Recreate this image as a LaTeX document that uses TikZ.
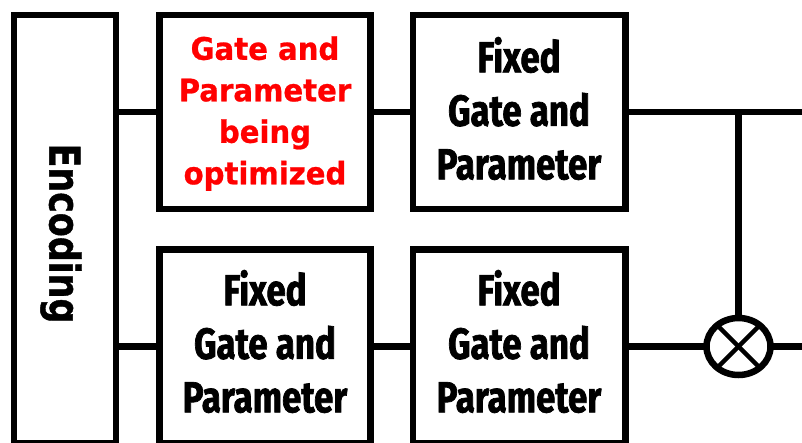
\documentclass[tikz,border=0pt]{standalone}
\usepackage{fontspec}
\usetikzlibrary{shapes.geometric}
\newfontfamily\fixfont[FakeStretch=0.8,FakeBold=1.6]{Fira Sans}
\newfontfamily\redfont[FakeStretch=0.94,FakeBold=0.8]{DejaVu Sans}
\newfontfamily\encfont[FakeStretch=0.82,FakeBold=1.0]{DejaVu Sans}

\begin{document}
\begin{tikzpicture}[x=1pt,y=-1pt,
  stagebox/.style={draw, line width=6.5pt, rectangle, minimum width=211pt,
    minimum height=194pt, inner sep=0pt},
  fixedtxt/.style={align=center, inner sep=0pt,
    font=\fixfont\bfseries\fontsize{43.5}{53.5}\selectfont},
  optxt/.style={align=center, inner sep=0pt, text=red,
    font=\redfont\bfseries\fontsize{31}{41.5}\selectfont},
  wire/.style={line width=6.5pt},
]
\useasboundingbox (0,0) rectangle (802,443);

% encoding block on the left
\node[draw, line width=6.5pt, rectangle, minimum width=102pt,
  minimum height=428.5pt, inner sep=0pt] (enc) at (65,229.25) {};
\node[rotate=-90, inner sep=0pt,
  font=\encfont\bfseries\fontsize{42.5}{50}\selectfont] (enctxt) at (61,233.5) {Encoding};

% gate stages
\node[stagebox] (b1) at (265,112) {};
\node[stagebox, minimum width=212.5pt] (b2) at (519.25,112) {};
\node[stagebox] (b3) at (265,346.5) {};
\node[stagebox, minimum width=212.5pt] (b4) at (519.25,346.5) {};

\node[optxt] (t1) at (265,113.5) {Gate and\\Parameter\\being\\optimized};
\node[fixedtxt] (t2) at (519,108.5) {Fixed\\Gate and\\Parameter};
\node[fixedtxt] (t3) at (265,341.5) {Fixed\\Gate and\\Parameter};
\node[fixedtxt] (t4) at (519,341.5) {Fixed\\Gate and\\Parameter};

% combining element
\node[draw, ellipse, line width=6.5pt, minimum width=64pt, minimum height=57pt,
  inner sep=0pt, outer sep=0pt] (ox) at (738.5,346.5) {};
\draw[line width=4.5pt] (ox.45) -- (ox.225);
\draw[line width=4.5pt] (ox.135) -- (ox.315);

% open ends on the right
\coordinate (endT) at (812,112);
\coordinate (endB) at (812,346.5);

% wires
\draw[wire] (enc.east |- b1.west) -- (b1.west);
\draw[wire] (b1.east) -- (b2.west);
\draw[wire] (b2.east) -- (endT);
\draw[wire] (enc.east |- b3.west) -- (b3.west);
\draw[wire] (b3.east) -- (b4.west);
\draw[wire] (b4.east) -- (ox.west);
\draw[wire] (ox.east) -- (endB);
\draw[wire] (ox.north) -- (ox.north |- b2.east);
\end{tikzpicture}
\end{document}
